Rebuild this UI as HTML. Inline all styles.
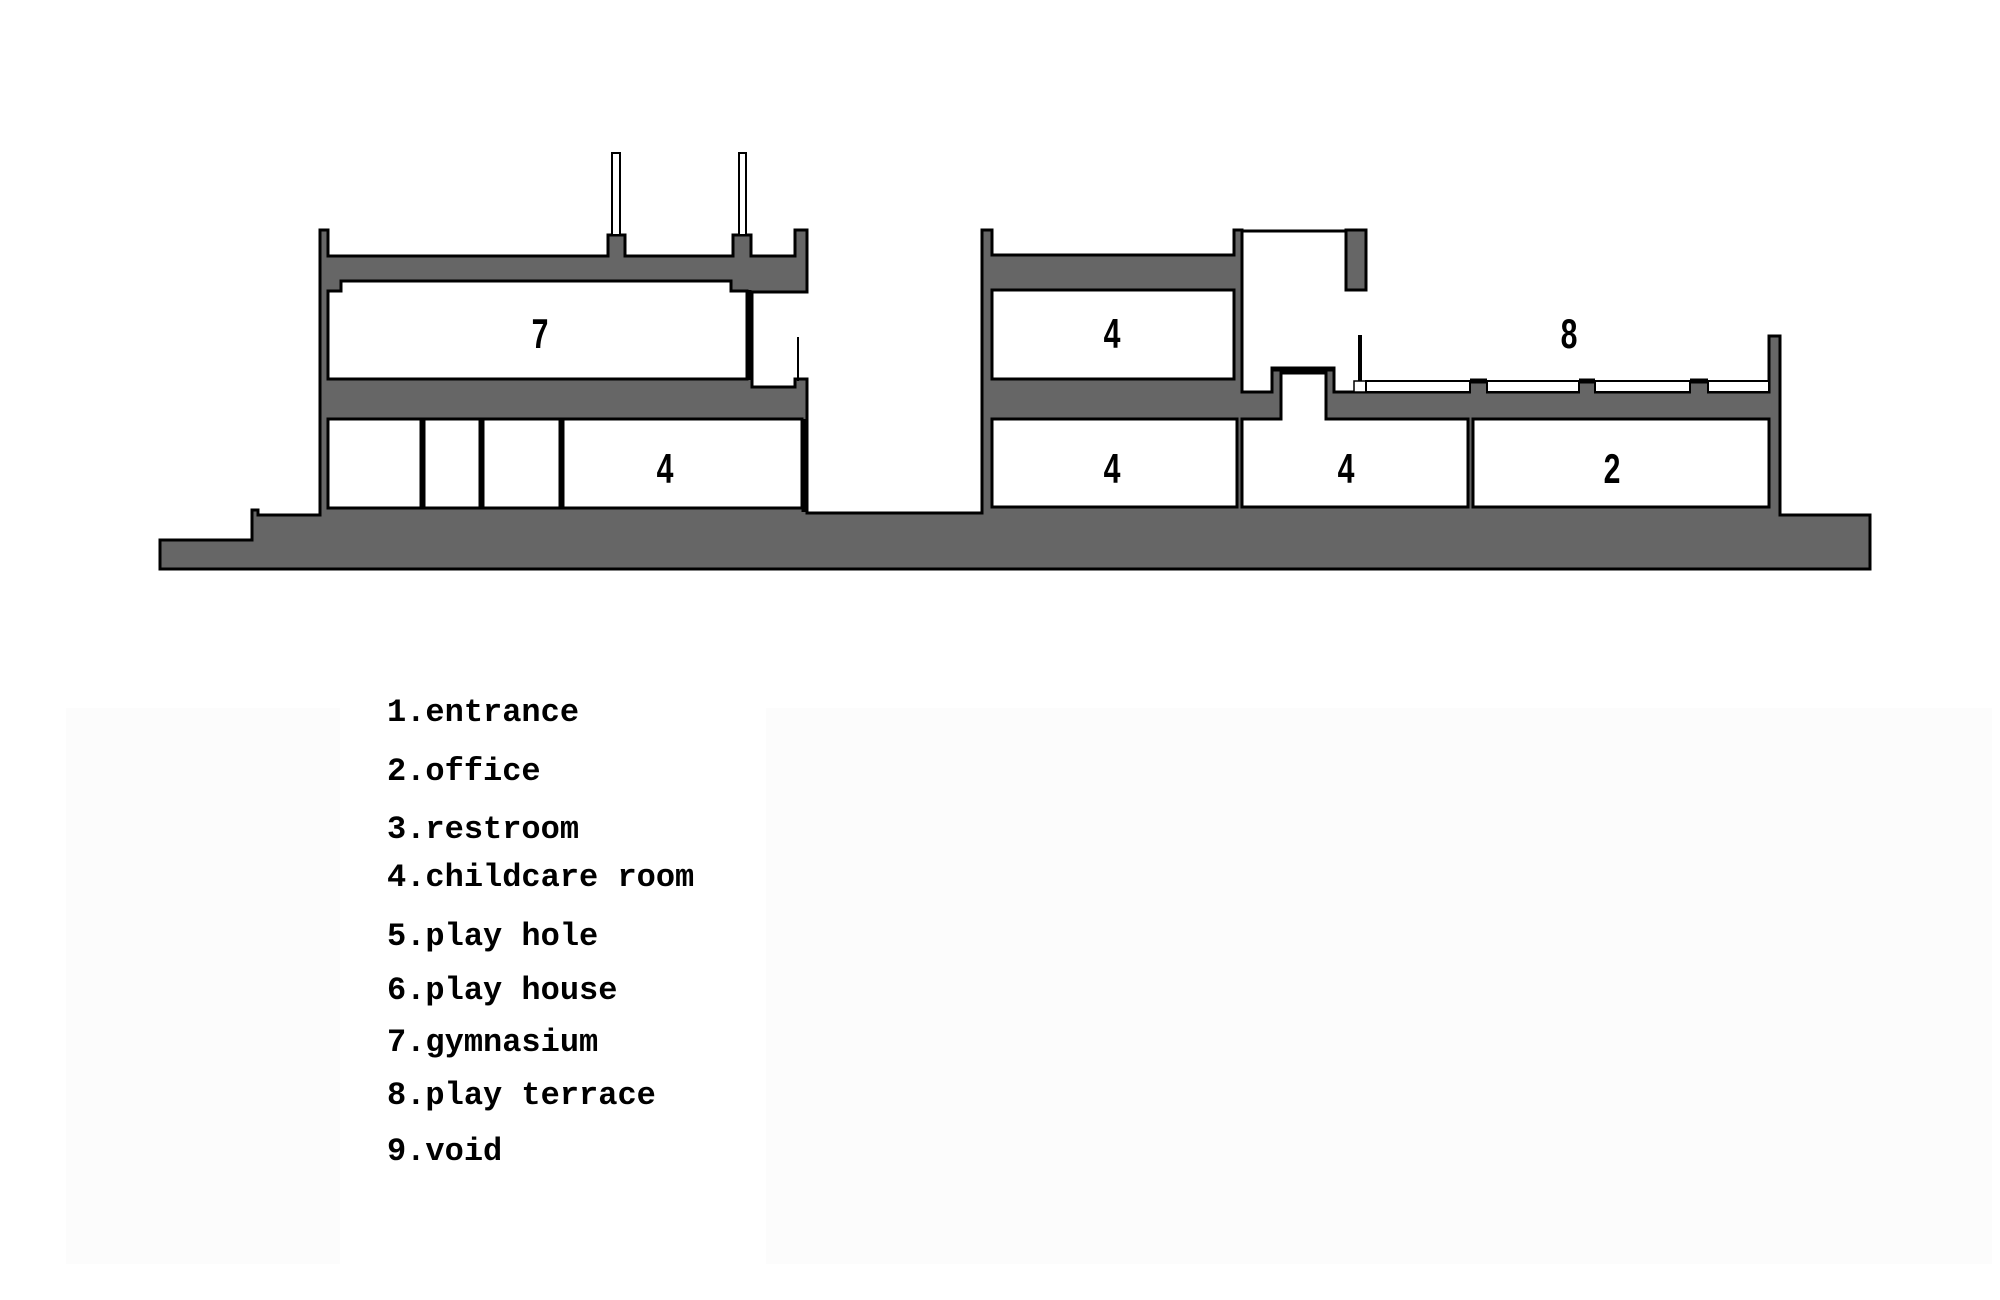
<!DOCTYPE html>
<html><head><meta charset="utf-8"><style>
html,body{margin:0;padding:0;background:#fff;}
body{width:2000px;height:1300px;position:relative;overflow:hidden;}
svg{position:absolute;left:0;top:0;}
.n{font-family:"Liberation Sans",sans-serif;font-weight:bold;font-size:42px;fill:#000;}
.lg{position:absolute;left:387px;font-family:"Liberation Mono",monospace;font-size:32px;font-weight:bold;color:#000;line-height:1;white-space:pre;}
</style></head><body>
<div style="position:absolute;left:66px;top:708px;width:1926px;height:556px;background:#fcfcfc;"></div>
<div style="position:absolute;left:340px;top:708px;width:426px;height:556px;background:#fff;"></div>
<svg width="2000" height="1300" viewBox="0 0 2000 1300">
<g fill="#666" stroke="#000" stroke-width="3" stroke-linejoin="miter">
<polygon points="160,540 252,540 252,510 258,510 258,515 320,515 320,230 328,230 328,256 608,256 608,235 625,235 625,256 733,256 733,235 751,235 751,256 795,256 795,230 807,230 807,292 752,292 752,387 795,387 795,379 807,379 807,513 982,513 982,230 992,230 992,255 1234,255 1234,230 1242,230 1242,392 1272,392 1272,368 1334,368 1334,392 1769,392 1769,336 1780,336 1780,515 1870,515 1870,569 160,569"/>
<rect x="1346" y="230" width="20" height="60"/>
</g>
<g fill="#fff" stroke="#000" stroke-width="3">
<polygon points="341,281 731,281 731,291 747,291 747,379 328,379 328,291 341,291"/>
<rect x="328" y="419" width="93" height="89"/>
<rect x="424" y="419" width="56" height="89"/>
<rect x="483" y="419" width="77" height="89"/>
<rect x="563" y="419" width="239" height="89"/>
<rect x="992" y="290" width="242" height="89"/>
<rect x="992" y="419" width="245" height="88"/>
<polygon points="1242,419 1281,419 1281,373 1326,373 1326,419 1468,419 1468,507 1242,507"/>
<rect x="1473" y="419" width="296" height="88"/>
<rect x="1354" y="381" width="12" height="11" stroke-width="1.5"/>
<rect x="1366" y="381" width="104" height="11" stroke-width="2"/>
<rect x="1487" y="381" width="92" height="11" stroke-width="2"/>
<rect x="1595" y="381" width="95" height="11" stroke-width="2"/>
<rect x="1708" y="381" width="61" height="11" stroke-width="2"/>
<rect x="612" y="153" width="8" height="82" stroke-width="2"/>
<rect x="739" y="153" width="7" height="82" stroke-width="2"/>
</g>
<g fill="#666" stroke="none">
<rect x="1471" y="381" width="15" height="13"/>
<rect x="1580" y="381" width="14" height="13"/>
<rect x="1691" y="381" width="16" height="13"/>
</g>
<g stroke="#000" fill="none">
<line x1="749" y1="290" x2="749" y2="380" stroke-width="5"/>
<line x1="804" y1="419" x2="804" y2="512" stroke-width="5"/>
<line x1="798" y1="337" x2="798" y2="381" stroke-width="2"/>
<line x1="1360" y1="335" x2="1360" y2="381" stroke-width="4"/>
<line x1="1242" y1="231" x2="1346" y2="231" stroke-width="3"/>
<line x1="1272" y1="369" x2="1334" y2="369" stroke-width="5"/>
<line x1="1470" y1="381" x2="1487" y2="381" stroke-width="5"/>
<line x1="1579" y1="381" x2="1595" y2="381" stroke-width="5"/>
<line x1="1690" y1="381" x2="1708" y2="381" stroke-width="5"/>
</g>
<g class="n" text-anchor="middle">
<text x="540" y="348" transform="translate(540 0) scale(0.72 1) translate(-540 0)">7</text>
<text x="665" y="483" transform="translate(665 0) scale(0.72 1) translate(-665 0)">4</text>
<text x="1112" y="348" transform="translate(1112 0) scale(0.72 1) translate(-1112 0)">4</text>
<text x="1112" y="483" transform="translate(1112 0) scale(0.72 1) translate(-1112 0)">4</text>
<text x="1346" y="483" transform="translate(1346 0) scale(0.72 1) translate(-1346 0)">4</text>
<text x="1612" y="483" transform="translate(1612 0) scale(0.72 1) translate(-1612 0)">2</text>
<text x="1569" y="348" transform="translate(1569 0) scale(0.72 1) translate(-1569 0)">8</text>
</g>
</svg>
<div class="lg" style="top:697px">1.entrance</div>
<div class="lg" style="top:756px">2.office</div>
<div class="lg" style="top:814px">3.restroom</div>
<div class="lg" style="top:862px">4.childcare room</div>
<div class="lg" style="top:921px">5.play hole</div>
<div class="lg" style="top:975px">6.play house</div>
<div class="lg" style="top:1027px">7.gymnasium</div>
<div class="lg" style="top:1080px">8.play terrace</div>
<div class="lg" style="top:1136px">9.void</div>
</body></html>
